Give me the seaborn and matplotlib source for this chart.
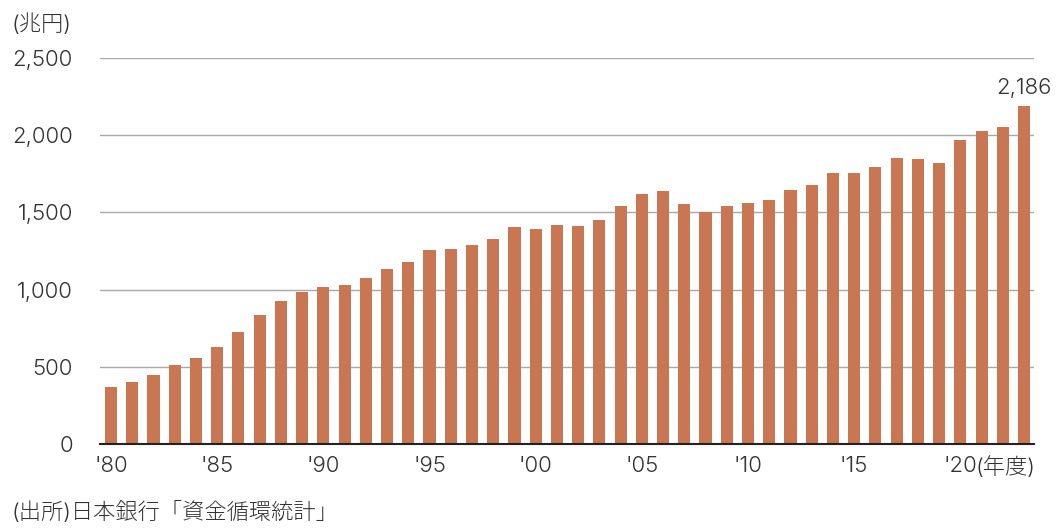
import matplotlib
matplotlib.use("Agg")
import matplotlib.pyplot as plt
import seaborn as sns
import pandas as pd

years = list(range(1980, 2024))
values = [369, 401, 447, 512, 557, 628, 725, 835, 926, 984,
          1017, 1030, 1075, 1133, 1179, 1256, 1263, 1289, 1328, 1405,
          1392, 1418, 1412, 1451, 1541, 1619, 1639, 1554, 1503, 1541,
          1561, 1580, 1645, 1677, 1755, 1755, 1794, 1852, 1846, 1820,
          1969, 2027, 2053, 2186]
tick_years = [1980, 1985, 1990, 1995, 2000, 2005, 2010, 2015, 2020]
tick_labels = ["'80", "'85", "'90", "'95", "'00", "'05", "'10", "'15", "'20"]
year_unit = "(年度)"
y_ticks = [0, 500, 1000, 1500, 2000, 2500]
y_labels = ["0", "500", "1,000", "1,500", "2,000", "2,500"]
unit_label = "(兆円)"
source_label = "(出所)日本銀行「資金循環統計」"
last_label = "2,186"

sns.set_theme(style="white")
plt.rcParams['font.family'] = ['Inter', 'Noto Sans CJK JP', 'DejaVu Sans']
plt.rcParams['font.weight'] = 300

BAR = "#C97652"
TXT = "#333333"
FS = 16

df = pd.DataFrame({"year": [str(y) for y in years], "value": values})

fig = plt.figure(figsize=(10.57, 5.29), dpi=100)
ax = fig.add_axes([100/1057, 1-444/529, 934/1057, 386/529])

sns.barplot(data=df, x="year", y="value", color=BAR, width=0.57,
            saturation=1, ax=ax, zorder=3, edgecolor="none")

ax.set_xlim(-0.52, len(years) - 1 + 0.47)
ax.set_ylim(0, 2500)
ax.set_yticks(y_ticks)
ax.set_yticklabels(y_labels, fontsize=FS, color=TXT)
for y in y_ticks[1:]:
    ax.axhline(y, color="#a8a8a8", lw=1.0, zorder=1)

pos = [years.index(y) for y in tick_years]
ax.set_xticks(pos)
ax.set_xticklabels(tick_labels, fontsize=FS, color=TXT)

ax.tick_params(axis="both", length=0)
ax.tick_params(axis="y", pad=19.5)
ax.tick_params(axis="x", pad=9)
for s in ["top", "right", "left"]:
    ax.spines[s].set_visible(False)
ax.spines["bottom"].set_color("#222222")
ax.spines["bottom"].set_linewidth(1.5)
ax.spines["bottom"].set_zorder(4)
ax.set_xlabel("")
ax.set_ylabel("")

ax.annotate(year_unit, xy=(pos[-1], 0), xycoords=("data", "axes fraction"),
            xytext=(11, -9), textcoords="offset points", ha="left", va="top",
            fontsize=FS, color=TXT)

ax.annotate(last_label, xy=(len(years) - 1, values[-1]), xytext=(0, 6),
            textcoords="offset points", ha="center", va="bottom",
            fontsize=FS, color=TXT)

fig.text(12/1057, 1-24/529, unit_label, fontsize=FS, color=TXT, ha="left", va="center")
fig.text(12/1057, 1-512/529, source_label, fontsize=FS, color=TXT, ha="left", va="center")

fig.savefig("out.png", dpi=100, facecolor="white")
